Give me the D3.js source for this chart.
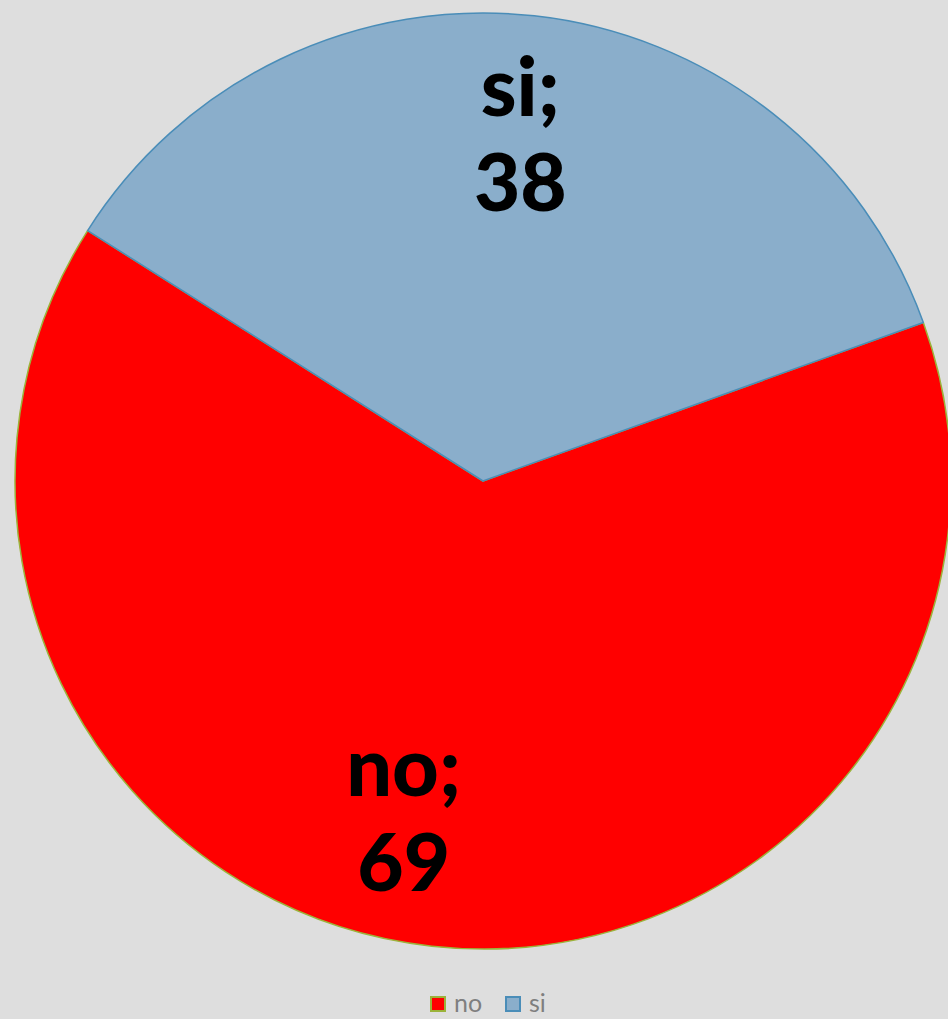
<!DOCTYPE html>
<html><head><meta charset="utf-8">
<script src="https://cdn.jsdelivr.net/npm/d3@7"></script>
<style>html,body{margin:0;padding:0;background:#dedede;}svg{display:block;}</style>
</head><body>
<svg id="chart" width="948" height="1019"></svg>
<script>
const categories = ["no", "si"];
const values = [69, 38];
const fills = ["#ff0000", "#8aaecb"];
const strokes = ["#9bb33a", "#4a8db8"];

const W = 948, H = 1019;
const cx = 483, cy = 481, R = 468;
const svg = d3.select("#chart");
svg.append("rect").attr("width", W).attr("height", H).attr("fill", "#dedede");

const startDeg = 70.2;
const pie = d3.pie().sort(null).value(d => d)
  .startAngle(startDeg * Math.PI / 180)
  .endAngle((startDeg + 360) * Math.PI / 180);
const arcs = pie(values);
const arc = d3.arc().innerRadius(0).outerRadius(R);
const g = svg.append("g").attr("transform", `translate(${cx},${cy})`);
g.selectAll("path").data(arcs).enter().append("path")
  .attr("d", arc)
  .attr("fill", (d, i) => fills[i])
  .attr("stroke", (d, i) => strokes[i])
  .attr("stroke-width", 1.5)
  .attr("stroke-linejoin", "round");

// labels
const labelArc = d3.arc().innerRadius(0).outerRadius(R * 1.46);
const labelShift = [[-42, 0], [0, 0]];
const lab = g.selectAll("g.lab").data(arcs).enter().append("g")
  .attr("class", "lab")
  .attr("transform", (d, i) => {
    const c = labelArc.centroid(d);
    return `translate(${c[0] + labelShift[i][0]},${c[1] + labelShift[i][1]})`;
  });
lab.append("text").attr("text-anchor", "middle").attr("y", -25)
  .attr("font-family", "Lato, sans-serif").attr("font-weight", 900)
  .attr("font-size", 81).attr("fill", "#000")
  .text((d, i) => categories[i] + ";");
lab.append("text").attr("text-anchor", "middle").attr("y", 70)
  .attr("font-family", "Lato, sans-serif").attr("font-weight", 900)
  .attr("font-size", 80).attr("fill", "#000")
  .text(d => d.data);

// legend
const legend = svg.append("g").attr("transform", "translate(430,996)");
const items = legend.selectAll("g").data(categories).enter().append("g")
  .attr("transform", (d, i) => `translate(${i * 75},0)`);
items.append("rect").attr("x", 1).attr("y", 1).attr("width", 14).attr("height", 14)
  .attr("fill", (d, i) => fills[i]).attr("stroke", (d, i) => strokes[i]).attr("stroke-width", 2);
items.append("text").attr("x", 24).attr("y", 16)
  .attr("font-family", "Lato, sans-serif").attr("font-size", 25).attr("fill", "#7f7f7f")
  .text(d => d);
</script>
</body></html>
